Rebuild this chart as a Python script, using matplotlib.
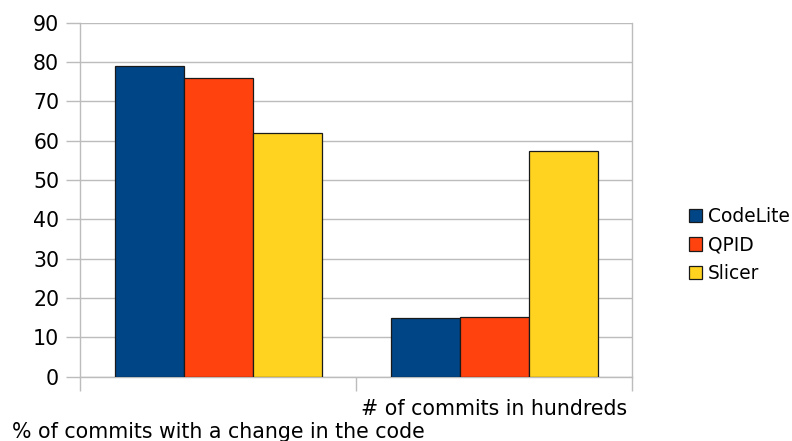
import matplotlib
matplotlib.use("Agg")
import matplotlib.pyplot as plt
import numpy as np

categories = ["% of commits with a change in the code", "# of commits in hundreds"]
series_names = ["CodeLite", "QPID", "Slicer"]
codelite = [79, 14.8]
qpid = [76, 15.1]
slicer = [62, 57.3]
colors = ["#004586", "#ff420e", "#ffd320"]
yticks = [0, 10, 20, 30, 40, 50, 60, 70, 80, 90]

fig = plt.figure(figsize=(7.92, 4.41), dpi=100)
ax = fig.add_axes([80/792, 1 - 376.7/441, 552/792, 354/441])

x = np.arange(len(categories))
w = 0.25
for i, (vals, name, c) in enumerate(zip([codelite, qpid, slicer], series_names, colors)):
    ax.bar(x + (i - 1) * w, vals, width=w, color=c, edgecolor="#1a1a1a",
           linewidth=0.9, label=name, zorder=3)

ax.set_xlim(-0.5, 1.5)
ax.set_ylim(0, 90)
ax.set_yticks(yticks)
ax.yaxis.grid(True, color="#bcbcbc", linewidth=1, zorder=0)
ax.set_axisbelow(True)

for s in ["left", "right", "bottom"]:
    ax.spines[s].set_color("#bcbcbc")
    ax.spines[s].set_linewidth(1)
ax.spines["top"].set_visible(False)

ax.set_xticks([-0.5, 0.5, 1.5])
ax.set_xticklabels([])
ax.tick_params(axis="x", which="major", length=10, color="#bcbcbc", width=1)
ax.set_xticks([x[1]], minor=True)
ax.set_xticklabels([categories[1]], minor=True, fontsize=14.8)
ax.tick_params(axis="x", which="minor", length=0, pad=16)
ax.tick_params(axis="y", length=10, color="#bcbcbc", width=1, labelsize=14.8, pad=5)

ax.annotate(categories[0], xy=(x[0], 0), xycoords=("data", "axes fraction"),
            xytext=(0, -32.5), textcoords="offset points", ha="center", va="top",
            fontsize=14.8, annotation_clip=False)

fig.legend(loc="center left", bbox_to_anchor=(680/792, 1 - 245/441), frameon=False,
           fontsize=13.4, handlelength=0.7, handleheight=0.7, handletextpad=0.3,
           labelspacing=0.5, borderpad=0)

fig.savefig("out.png", dpi=100)
